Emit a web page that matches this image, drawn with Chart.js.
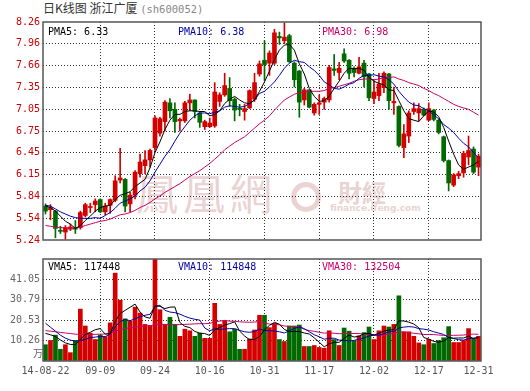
<!DOCTYPE html>
<html>
<head>
<meta charset="utf-8">
<script src="https://cdn.jsdelivr.net/npm/chart.js@4.4.1/dist/chart.umd.min.js"></script>
<style>
  body { margin: 0; background: #fff; }
  #wrap { position: relative; width: 530px; height: 391px; overflow: hidden; }
  canvas { position: absolute; left: 0; }
  .t { position: absolute; white-space: pre; font-family: "DejaVu Sans Mono", monospace; font-size: 10px; line-height: 12px; }
  .wm { position: absolute; color: #ead3d3; font-family: "Noto Sans CJK TC", sans-serif; white-space: pre; line-height: 1; }
</style>
</head>
<body>
<div id="wrap">
  <div class="wm" style="left:136px;top:171px;font-size:42px;letter-spacing:5px;">鳳凰網</div>
  <div style="position:absolute;left:291px;top:182px;width:20px;height:20px;border:5px solid #ead3d3;border-radius:50%;"></div>
  <div class="wm" style="left:338px;top:180px;font-size:24px;font-weight:bold;">財經</div>
  <div class="wm" style="left:330px;top:204px;font-size:9px;font-weight:bold;font-family:'DejaVu Sans',sans-serif;">finance.ifeng.com</div>

  <div style="position:absolute;left:43px;top:0px;font-size:12px;line-height:15px;color:#333;font-family:'Noto Sans CJK SC',sans-serif;white-space:pre;">日K线图 浙江广厦 <span style="color:#888;font-family:'DejaVu Sans Mono',monospace;font-size:10.5px;">(sh600052)</span></div>

  <canvas id="kChart" width="530" height="250" style="top:0"></canvas>
  <canvas id="vChart" width="530" height="141" style="top:250px"></canvas>

  <div class="t" id="pma5" style="left:48px;top:26px;color:#000;"></div>
  <div class="t" id="pma10" style="left:178px;top:26px;color:#0000aa;"></div>
  <div class="t" id="pma30" style="left:322px;top:26px;color:#cc0066;"></div>
  <div class="t" id="vma5l" style="left:48px;top:261px;color:#000;"></div>
  <div class="t" id="vma10l" style="left:178px;top:261px;color:#0000aa;"></div>
  <div class="t" id="vma30l" style="left:322px;top:261px;color:#cc0066;"></div>
  <div style="position:absolute;left:33px;top:345px;font-size:10px;color:#666;font-family:'Noto Sans CJK SC',sans-serif;">万</div>
</div>
<script>
const dates = [
  '08-22','08-25','08-26','08-27','08-28','08-29','09-01','09-02','09-03','09-04',
  '09-05','09-09','09-10','09-11','09-12','09-15','09-16','09-17','09-18','09-19',
  '09-22','09-23','09-24','09-25','09-26','09-29','09-30','10-08','10-09','10-10',
  '10-13','10-14','10-15','10-16','10-17','10-20','10-21','10-22','10-23','10-24',
  '10-27','10-28','10-29','10-30','10-31','11-03','11-04','11-05','11-06','11-07',
  '11-10','11-11','11-12','11-13','11-14','11-17','11-18','11-19','11-20','11-21',
  '11-24','11-25','11-26','11-27','11-28','12-01','12-02','12-03','12-04','12-05',
  '12-08','12-09','12-10','12-11','12-12','12-15','12-16','12-17','12-18','12-19',
  '12-22','12-23','12-24','12-25','12-26','12-29','12-30','12-31'
];

const open = [
  5.71,5.66,5.64,5.37,5.35,5.39,5.41,5.41,5.58,5.69,
  5.73,5.80,5.63,5.72,5.79,6.07,6.08,5.74,5.86,6.16,
  6.27,6.35,6.52,6.72,6.88,7.14,7.05,6.89,6.89,7.14,
  7.18,7.00,6.81,6.81,6.82,7.16,7.25,7.34,7.19,7.06,
  7.02,7.07,7.19,7.54,7.73,7.69,7.69,8.06,8.00,8.07,
  7.69,7.58,7.18,7.32,7.00,7.12,7.15,7.18,7.61,7.56,
  7.82,7.73,7.62,7.55,7.69,7.54,7.20,7.24,7.35,7.54,
  7.14,7.09,6.52,6.68,7.02,7.00,7.05,6.90,7.04,6.90,
  6.67,6.34,6.00,6.13,6.17,6.39,6.50,6.25
];
const high = [
  5.74,5.73,5.65,5.43,5.44,5.46,5.51,5.64,5.75,5.75,
  5.81,5.81,5.75,5.81,6.13,6.51,6.09,5.90,6.20,6.43,
  6.48,6.50,6.96,6.94,7.17,7.20,7.14,6.93,7.16,7.26,
  7.18,7.02,6.90,6.93,7.42,7.28,7.55,7.49,7.21,7.12,
  7.12,7.32,7.55,7.72,8.00,7.86,8.16,8.12,8.25,8.09,
  7.71,7.59,7.34,7.32,7.14,7.25,7.22,7.66,7.81,7.70,
  7.89,7.74,7.64,7.77,7.73,7.55,7.45,7.55,7.57,7.55,
  7.36,7.10,6.84,7.03,7.14,7.13,7.07,7.14,7.05,6.91,
  6.68,6.35,6.16,6.19,6.47,6.68,6.53,6.43
];
const low = [
  5.60,5.52,5.27,5.33,5.25,5.37,5.33,5.39,5.56,5.62,
  5.63,5.62,5.59,5.61,5.77,6.03,5.63,5.63,5.81,6.11,
  6.16,6.25,6.48,6.68,6.75,6.93,6.73,6.75,6.87,7.03,
  6.93,6.80,6.77,6.80,6.80,7.09,7.23,7.09,6.89,6.96,
  6.90,7.06,7.16,7.51,7.45,7.52,7.67,7.95,7.96,7.70,
  7.36,6.94,7.11,7.07,6.97,6.98,7.05,7.15,7.52,7.46,
  7.70,7.47,7.50,7.54,7.36,7.17,7.13,7.17,7.28,7.05,
  6.98,6.53,6.38,6.59,6.98,6.89,6.96,6.89,6.89,6.71,
  6.32,5.92,5.98,6.09,6.11,6.28,6.16,6.13
];
const close = [
  5.64,5.69,5.40,5.36,5.41,5.42,5.39,5.62,5.73,5.70,
  5.78,5.63,5.71,5.80,6.06,6.10,5.71,5.86,6.18,6.32,
  6.35,6.48,6.93,6.92,7.15,7.03,6.88,6.91,7.14,7.18,
  7.02,6.87,6.88,6.86,7.29,7.25,7.38,7.17,7.04,7.05,
  7.06,7.31,7.42,7.68,7.67,7.83,8.11,8.04,8.05,7.71,
  7.46,7.15,7.32,7.08,7.12,7.14,7.20,7.63,7.59,7.62,
  7.72,7.55,7.56,7.64,7.50,7.21,7.29,7.40,7.55,7.17,
  7.16,6.55,6.71,7.00,7.06,7.06,6.97,7.06,6.91,6.73,
  6.34,6.03,6.14,6.16,6.44,6.48,6.18,6.40
];
const ma5 = [
  5.71,5.69,5.64,5.57,5.50,5.46,5.40,5.44,5.51,5.57,
  5.64,5.69,5.71,5.72,5.80,5.86,5.88,5.91,5.98,6.03,
  6.08,6.24,6.45,6.60,6.77,6.90,6.98,6.98,7.02,7.03,
  7.03,7.02,7.02,6.96,6.98,7.03,7.13,7.19,7.23,7.18,
  7.14,7.13,7.18,7.30,7.43,7.58,7.74,7.87,7.94,7.95,
  7.87,7.68,7.54,7.34,7.23,7.16,7.17,7.23,7.34,7.44,
  7.55,7.62,7.61,7.62,7.59,7.49,7.44,7.41,7.39,7.32,
  7.31,7.17,7.03,6.92,6.90,6.88,6.96,7.03,7.01,6.95,
  6.80,6.61,6.43,6.28,6.22,6.25,6.28,6.33
];
const ma10 = [
  5.72,5.71,5.67,5.63,5.60,5.57,5.55,5.54,5.54,5.54,
  5.55,5.54,5.58,5.62,5.68,5.75,5.78,5.81,5.85,5.92,
  5.97,6.06,6.18,6.29,6.40,6.49,6.61,6.72,6.81,6.90,
  6.96,7.00,7.00,6.99,7.01,7.03,7.08,7.10,7.09,7.08,
  7.09,7.13,7.18,7.27,7.30,7.36,7.43,7.52,7.62,7.69,
  7.73,7.71,7.70,7.64,7.59,7.52,7.43,7.39,7.34,7.33,
  7.36,7.40,7.42,7.48,7.52,7.52,7.53,7.51,7.50,7.46,
  7.40,7.30,7.22,7.15,7.11,7.10,7.06,7.03,6.97,6.92,
  6.84,6.79,6.73,6.65,6.58,6.53,6.45,6.38
];
const ma30 = [
  5.44,5.43,5.42,5.41,5.41,5.40,5.41,5.42,5.44,5.46,
  5.48,5.50,5.51,5.53,5.56,5.59,5.60,5.62,5.65,5.69,
  5.72,5.76,5.81,5.85,5.90,5.94,5.98,6.02,6.07,6.12,
  6.16,6.20,6.25,6.30,6.36,6.42,6.49,6.54,6.59,6.63,
  6.67,6.73,6.79,6.85,6.90,6.96,7.04,7.11,7.18,7.22,
  7.26,7.28,7.29,7.30,7.30,7.30,7.31,7.34,7.35,7.37,
  7.39,7.41,7.44,7.46,7.47,7.47,7.46,7.47,7.49,7.49,
  7.50,7.47,7.45,7.42,7.40,7.38,7.34,7.31,7.27,7.24,
  7.20,7.16,7.12,7.09,7.07,7.05,7.01,6.97
];

// volume in 万
const volume = [
  8.2,10.3,13.0,5.9,8.2,4.2,10.3,26.1,17.6,14.0,
  10.8,13.0,12.2,19.2,44.2,30.6,21.2,20.0,27.1,24.1,
  18.4,17.9,51.3,25.8,18.4,22.0,18.4,12.4,16.0,15.2,
  12.4,14.0,11.4,11.4,29.0,18.4,20.4,14.7,16.0,5.9,
  5.9,11.1,15.6,23.0,23.0,16.8,18.9,10.8,9.8,17.6,
  17.6,18.1,7.3,7.3,7.8,6.8,6.4,15.2,10.8,7.8,
  16.6,15.0,10.1,12.7,14.3,17.1,10.8,15.2,17.6,17.1,
  18.4,32.8,14.7,14.7,12.4,9.1,8.2,10.9,8.8,10.3,
  11.7,17.3,9.3,9.3,10.3,16.3,11.1,12.4
];
const vma5 = [
  13.9,13.2,12.3,10.6,9.12,8.32,8.32,10.94,13.28,14.44,
  15.76,16.3,13.52,13.84,19.88,23.84,25.48,27.04,28.62,24.6,
  22.16,21.5,27.76,27.5,26.36,27.08,27.18,19.4,17.44,16.8,
  14.88,14.0,13.8,12.88,15.64,16.84,18.12,18.78,19.7,15.08,
  12.58,10.72,10.9,12.3,15.72,17.9,19.46,18.5,15.86,14.78,
  14.94,14.78,14.08,13.58,11.62,9.46,7.12,8.7,9.4,9.4,
  11.36,13.08,12.06,12.44,13.74,13.84,13.0,14.02,15.0,15.56,
  15.82,20.22,20.12,19.54,18.6,16.74,11.82,11.06,9.88,9.46,
  9.98,11.8,11.48,11.58,11.58,12.5,11.26,11.88
];
const vma10 = [
  19.0,17.0,15.0,13.0,11.5,10.5,10.0,10.3,10.9,11.78,
  12.04,12.31,12.23,13.56,17.16,19.8,20.89,20.28,21.23,22.24,
  23.0,23.49,27.4,28.06,25.48,24.62,24.34,23.58,22.47,21.58,
  20.98,20.59,16.6,15.16,16.22,15.86,16.06,16.29,16.29,15.36,
  14.71,14.42,14.84,16.0,15.4,15.24,15.09,14.7,14.08,15.25,
  16.42,17.12,16.29,14.72,13.2,12.2,10.95,11.39,11.49,10.51,
  10.41,10.1,10.38,10.92,11.57,12.6,13.04,13.04,13.72,14.65,
  14.83,16.61,17.07,17.27,17.08,16.28,16.02,15.59,14.71,14.03,
  13.36,11.81,11.27,10.73,10.52,11.24,11.53,11.68
];
const vma30 = [
  15.3,15.0,14.7,14.4,14.1,13.8,13.5,13.4,13.4,13.4,
  13.4,13.5,13.6,13.8,14.9,15.8,16.3,16.7,17.1,17.4,
  17.6,17.7,18.3,18.5,18.4,18.4,18.4,18.3,18.4,18.53,
  18.67,18.8,18.74,18.93,19.62,20.09,20.43,20.05,20.0,19.73,
  19.56,19.5,19.61,19.74,19.03,18.57,18.5,18.19,17.61,17.4,
  17.37,17.38,15.91,15.29,14.94,14.43,14.03,14.13,13.95,13.71,
  13.85,13.88,13.84,13.88,13.39,13.35,13.03,13.04,13.1,13.47,
  13.89,14.61,14.58,14.3,13.95,13.69,13.34,13.34,13.31,13.06,
  12.87,12.84,12.91,12.97,13.06,13.37,13.53,13.44
];

const priceTicks = [5.24, 5.542, 5.844, 6.146, 6.448, 6.75, 7.052, 7.354, 7.656, 7.958, 8.26];
const priceTickLabels = ['5.24','5.54','5.84','6.15','6.45','6.75','7.05','7.35','7.66','7.96','8.26'];
const volTicks = [0, 10.26, 20.53, 30.79, 41.05, 51.31];
const volTickLabels = ['', '10.26', '20.53', '30.79', '41.05', ''];
const xTickIndex = [0, 11, 22, 33, 44, 55, 66, 77, 87];
const xTickLabels = ['14-08-22','09-09','09-24','10-16','10-31','11-17','12-02','12-17','12-31'];

const legendText = {
  pma5: 'PMA5: 6.33', pma10: 'PMA10: 6.38', pma30: 'PMA30: 6.98',
  vma5l: 'VMA5: 117448', vma10l: 'VMA10: 114848', vma30l: 'VMA30: 132504'
};
Object.keys(legendText).forEach(k => { document.getElementById(k).textContent = legendText[k]; });

const RED = '#d40000';
const GREEN = '#006a00';
const colors = close.map((c, i) => c >= open[i] ? RED : GREEN);
const bodies = open.map((o, i) => [o, close[i]]);
const wicks = low.map((l, i) => [l, high[i]]);
const gridIdx = xTickIndex.slice(1, -1);

const monoFont = { family: 'DejaVu Sans Mono', size: 10 };

const frame = {
  id: 'frame',
  afterDraw(chart) {
    const a = chart.chartArea, ctx = chart.ctx;
    ctx.save();
    ctx.strokeStyle = '#555';
    ctx.lineWidth = 1.5;
    ctx.strokeRect(a.left, a.top, a.right - a.left, a.bottom - a.top);
    ctx.restore();
  }
};

function lineSet(data, color) {
  return { type: 'line', data: data, borderColor: color, borderWidth: 1, pointRadius: 0, tension: 0, order: 0 };
}

function xScale(showLabels, h) {
  return {
    offset: true,
    grid: {
      offset: false,
      drawTicks: false,
      color: ctx => gridIdx.includes(ctx.index) ? '#333' : 'transparent'
    },
    border: { display: false, dash: [1, 2] },
    ticks: {
      display: showLabels,
      autoSkip: false,
      maxRotation: 0,
      padding: 4,
      color: '#555',
      font: monoFont,
      callback: (v, i) => {
        const k = xTickIndex.indexOf(i);
        return k >= 0 ? xTickLabels[k] : '';
      }
    },
    afterFit: s => { s.height = h; }
  };
}

function yScale(min, max, ticks, labels, color) {
  return {
    min: min, max: max,
    afterBuildTicks: s => { s.ticks = ticks.map(v => ({ value: v })); },
    grid: {
      drawTicks: false,
      color: ctx => (ctx.index === 0 || ctx.index === ticks.length - 1) ? 'transparent' : '#333'
    },
    border: { display: false, dash: [1, 2] },
    ticks: {
      padding: 3,
      color: color,
      font: monoFont,
      callback: (v, i) => labels[i]
    },
    afterFit: s => { s.width = 43; }
  };
}

new Chart(document.getElementById('kChart'), {
  type: 'bar',
  data: {
    labels: dates,
    datasets: [
      lineSet(ma5, '#000000'),
      lineSet(ma10, '#0000aa'),
      lineSet(ma30, '#cc0066'),
      { data: bodies, backgroundColor: colors, barThickness: 4, minBarLength: 1, grouped: false, order: 1 },
      { data: wicks, backgroundColor: colors, barThickness: 1, grouped: false, order: 2 }
    ]
  },
  options: {
    responsive: false,
    animation: false,
    layout: { padding: { top: 22, right: 49, left: 0, bottom: 0 } },
    plugins: { legend: { display: false }, tooltip: { enabled: false } },
    scales: {
      x: xScale(false, 10),
      y: yScale(5.24, 8.26, priceTicks, priceTickLabels, '#cc0000')
    }
  },
  plugins: [frame]
});

new Chart(document.getElementById('vChart'), {
  type: 'bar',
  data: {
    labels: dates,
    datasets: [
      lineSet(vma5, '#000000'),
      lineSet(vma10, '#0000aa'),
      lineSet(vma30, '#cc0066'),
      { data: volume, backgroundColor: colors, barThickness: 4, grouped: false, order: 1 }
    ]
  },
  options: {
    responsive: false,
    animation: false,
    layout: { padding: { top: 7, right: 49, left: 0, bottom: 0 } },
    plugins: { legend: { display: false }, tooltip: { enabled: false } },
    scales: {
      x: xScale(true, 30),
      y: yScale(0, 51.31, volTicks, volTickLabels, '#666')
    }
  },
  plugins: [frame]
});
</script>
</body>
</html>
